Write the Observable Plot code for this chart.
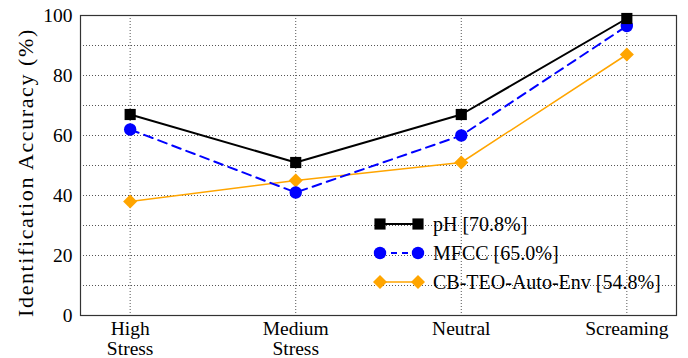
<!DOCTYPE html>
<html>
<head>
<meta charset="utf-8">
<script src="https://cdn.jsdelivr.net/npm/d3@7"></script>
<script src="https://cdn.jsdelivr.net/npm/@observablehq/plot@0.6"></script>
<style>
  html, body { margin: 0; padding: 0; background: #fff; }
  #chart svg { display: block; }
  #chart svg text { font-family: "Liberation Serif", "Times New Roman", Tinos, Times, "DejaVu Serif", serif !important; }
</style>
</head>
<body>
<div id="chart"></div>
<script>
const categories = ["High\nStress", "Medium\nStress", "Neutral", "Screaming"];
const seriesNames = ["pH [70.8%]", "MFCC [65.0%]", "CB-TEO-Auto-Env [54.8%]"];
const phValues = [67, 51, 67, 99];
const mfccValues = [62, 41, 60, 96.5];
const cbValues = [38, 45, 51, 87];
const yTicks = [0, 20, 40, 60, 80, 100];
const yGrid = [10, 20, 30, 40, 50, 60, 70, 80, 90];

const styles = [
  {color: "#000000", dash: null, width: 2, symbol: "square", r: 6.3, rotate: 0},
  {color: "#0000ff", dash: "9,6", width: 2, symbol: "circle", r: 6.2, rotate: 0},
  {color: "#ffa500", dash: null, width: 1.5, symbol: "square", r: 5.6, rotate: 45}
];
const allValues = [phValues, mfccValues, cbValues];
const data = allValues.flatMap((vals, s) => vals.map((v, i) => ({s, i, v})));

const marks = [
  Plot.gridY(yGrid, {stroke: "#555", strokeOpacity: 1, strokeDasharray: "1,2", strokeWidth: 1}),
  Plot.gridX([0, 1, 2, 3], {stroke: "#555", strokeOpacity: 1, strokeDasharray: "1,2", strokeWidth: 1}),
  Plot.frame({stroke: "#333", strokeWidth: 1.2})
];
for (let s = allValues.length - 1; s >= 0; s--) {
  const st = styles[s];
  const d = data.filter(p => p.s === s);
  marks.push(Plot.line(d, {x: "i", y: "v", stroke: st.color, strokeWidth: st.width, strokeDasharray: st.dash}));
  marks.push(Plot.dot(d, {x: "i", y: "v", fill: st.color, stroke: "none", symbol: st.symbol, r: st.r, rotate: st.rotate}));
}
marks.push(
  Plot.axisY(yTicks, {tickSize: 0, tickPadding: 8, fontSize: 19.5, label: null, fill: "#000"}),
  Plot.axisX([0, 1, 2, 3], {tickSize: 0, tickPadding: 6, fontSize: 19.5, label: null, tickFormat: i => categories[i], lineHeight: 1, fill: "#000"}),
  Plot.text(["Identification Accuracy (%)"], {frameAnchor: "left", dx: -55, dy: 7, rotate: -90, fontSize: 22, fill: "#000", textAnchor: "middle", lineAnchor: "middle", className: "ylab"})
);

const chart = Plot.plot({
  width: 688,
  height: 358,
  marginLeft: 80,
  marginRight: 12,
  marginTop: 15,
  marginBottom: 43,
  style: {background: "#fff", overflow: "visible"},
  x: {type: "linear", domain: [-0.3, 3.3], axis: null},
  y: {domain: [0, 100], axis: null},
  marks
});

d3.select(chart).selectAll(".ylab text").attr("letter-spacing", "1.6px");

// legend
const svg = d3.select(chart);
const legend = svg.append("g").attr("font-size", 20).attr("text-anchor", "start");
const rowY = [224, 253, 282];
seriesNames.forEach((name, s) => {
  const st = styles[s];
  const g = legend.append("g").attr("transform", `translate(0,${rowY[s]})`);
  g.append("line").attr("x1", 380).attr("x2", 418).attr("y1", 0).attr("y2", 0)
    .attr("stroke", st.color).attr("stroke-width", st.width)
    .attr("stroke-dasharray", st.dash ? "6,5" : null);
  const sym = st.symbol === "circle" ? d3.symbolCircle : d3.symbolSquare;
  const path = d3.symbol(sym, Math.PI * st.r * st.r)();
  [380, 418].forEach(x => {
    g.append("path").attr("d", path).attr("fill", st.color)
      .attr("transform", `translate(${x},0) rotate(${st.rotate})`);
  });
  g.append("text").attr("x", 433).attr("y", 0).attr("dy", "0.35em").attr("fill", "#000").attr("text-anchor", "start").text(name);
});

document.getElementById("chart").appendChild(chart);
</script>
</body>
</html>
